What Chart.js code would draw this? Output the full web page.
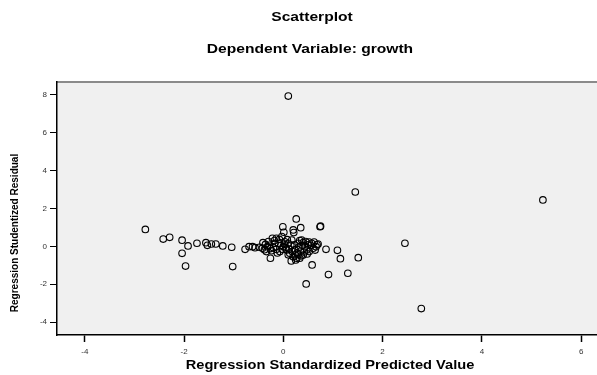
<!DOCTYPE html>
<html>
<head>
<meta charset="utf-8">
<script src="https://cdn.jsdelivr.net/npm/chart.js@4.4.1/dist/chart.umd.min.js"></script>
<style>
  html, body { margin: 0; padding: 0; background: #fff; }
  #chart { display: block; }
</style>
</head>
<body>
<canvas id="chart" width="597" height="375"></canvas>
<script>
// standardized predicted value (x) and studentized residual (y)
const predicted = [
  -2.78, -2.42, -2.29, -2.04, -1.92, -2.04, -1.97, -1.74, -1.56, -1.53, -1.45, -1.36, -1.22, -1.04, -1.02,
  -0.77, -0.69, -0.62, -0.57,
  0.10, 1.45, 2.45, 2.78, 5.23, 0.26, -0.01, 0.35, 0.74, 0.75, 0.21, 0.01, -0.03, 0.86, 1.09, 1.15, 1.51,
  0.58, 0.91, 1.30, 0.46, 0.70, -0.26, 0.16,
  -0.41, -0.42, -0.32, -0.22, -0.14, -0.17, -0.10, -0.34, -0.24, -0.14, -0.07, 0.00, 0.07, 0.03, 0.10,
  0.13, 0.20, 0.23, 0.27, 0.30, 0.33, 0.37, 0.40, 0.44, 0.47, 0.50, 0.57, 0.60, 0.66, 0.40, 0.33, 0.25,
  0.17, 0.20,
  -0.48, -0.36, -0.28, -0.20, -0.12, -0.05, 0.05, 0.08, 0.12, 0.15, 0.18, 0.22, 0.28, 0.31, 0.35, 0.38,
  0.42, 0.45, 0.52, 0.55, 0.62, 0.64, 0.68, 0.52, 0.48, 0.36, 0.30, -0.30, -0.18, -0.08, -0.02, 0.02,
  -0.38, -0.26, 0.10, 0.24
];
const residual = [
  0.89, 0.38, 0.47, 0.32, 0.02, -0.37, -1.04, 0.16, 0.19, 0.05, 0.12, 0.12, 0.02, -0.05, -1.07,
  -0.16, -0.02, -0.02, -0.07,
  7.91, 2.86, 0.16, -3.28, 2.44, 1.44, 1.03, 0.98, 1.03, 1.06, 0.72, 0.74, 0.51, -0.16, -0.21, -0.65, -0.60,
  -0.98, -1.49, -1.42, -1.98, 0.12, -0.63, -0.77,
  0.19, -0.10, -0.02, 0.42, 0.42, 0.16, 0.16, -0.28, -0.23, -0.16, -0.28, -0.02, -0.19, 0.24, 0.16,
  -0.37, -0.55, -0.19, -0.63, 0.16, 0.30, 0.33, 0.19, -0.02, -0.19, 0.07, 0.16, -0.10, -0.02, -0.46, -0.63, -0.72,
  0.33, 0.86,
  -0.05, 0.10, 0.05, -0.08, -0.35, 0.05, -0.05, 0.35, -0.15, 0.05, -0.28, 0.08, -0.35, -0.05, -0.25, 0.05,
  -0.30, 0.25, -0.28, 0.05, 0.22, -0.20, 0.08, 0.22, -0.40, -0.50, -0.45, 0.25, 0.30, 0.36, -0.15, 0.12,
  -0.18, -0.12, -0.45, -0.45
];
const xTicks = [-4, -2, 0, 2, 4, 6];
const yTicks = [-4, -2, 0, 2, 4, 6, 8];

const mainTitle = 'Scatterplot';
const subTitle = 'Dependent Variable: growth';
const xTitle = 'Regression Standardized Predicted Value';
const yTitle = 'Regression Studentized Residual';

const points = predicted.map((x, i) => ({ x: x, y: residual[i] }));
const FONT = '"Liberation Sans", Arial, sans-serif';

// text in the reference is a bit wider than it is tall, so stretch it sideways
function wideText(ctx, text, x, y, size, stretch) {
  ctx.save();
  ctx.font = 'bold ' + size + 'px ' + FONT;
  ctx.translate(x, y);
  ctx.scale(stretch, 1);
  ctx.fillText(text, 0, 0);
  ctx.restore();
}

// grey panel behind the points, grey top edge, and all the titles
const frame = {
  id: 'frame',
  beforeDraw(chart) {
    const { ctx, chartArea: a } = chart;
    ctx.save();
    ctx.fillStyle = '#f0f0f0';
    ctx.fillRect(a.left, a.top, a.right - a.left, a.bottom - a.top);
    ctx.strokeStyle = '#8a8a8a';
    ctx.lineWidth = 2;
    ctx.beginPath();
    ctx.moveTo(a.left, a.top);
    ctx.lineTo(a.right, a.top);
    ctx.stroke();
    ctx.restore();
  },
  afterDraw(chart) {
    const { ctx } = chart;
    ctx.save();
    ctx.fillStyle = '#000';
    ctx.textAlign = 'center';
    ctx.textBaseline = 'middle';
    wideText(ctx, mainTitle, 312, 17, 13, 1.2);
    wideText(ctx, subTitle, 310, 49, 13, 1.2);
    wideText(ctx, xTitle, 330, 366, 12.5, 1.17);
    ctx.font = 'bold 10px ' + FONT;
    ctx.translate(15, 233);
    ctx.rotate(-Math.PI / 2);
    ctx.fillText(yTitle, 0, 0);
    ctx.restore();
  }
};

new Chart(document.getElementById('chart'), {
  type: 'scatter',
  data: {
    datasets: [{
      data: points,
      pointStyle: 'circle',
      pointRadius: 3.3,
      pointBorderWidth: 1.1,
      pointBackgroundColor: 'rgba(0,0,0,0)',
      pointBorderColor: '#000',
      pointHoverRadius: 3.3
    }]
  },
  options: {
    responsive: false,
    animation: false,
    layout: { autoPadding: false, padding: { top: 82, left: 0, right: 0, bottom: 0 } },
    plugins: { legend: { display: false }, tooltip: { enabled: false }, title: { display: false } },
    scales: {
      x: {
        type: 'linear',
        min: -4.56,
        max: 6.32,
        afterBuildTicks: s => { s.ticks = xTicks.map(v => ({ value: v })); },
        afterFit: s => { s.height = 40; },
        grid: { drawOnChartArea: false, drawTicks: true, tickLength: 7, color: '#000', tickWidth: 1.5 },
        border: { display: true, color: '#000', width: 1.5 },
        ticks: { color: '#333', font: { family: FONT, size: 8 }, padding: 5, maxRotation: 0 }
      },
      y: {
        type: 'linear',
        min: -4.67,
        max: 8.65,
        afterBuildTicks: s => { s.ticks = yTicks.map(v => ({ value: v })); },
        afterFit: s => { s.width = 57; },
        grid: { drawOnChartArea: false, drawTicks: true, tickLength: 7, color: '#000', tickWidth: 1 },
        border: { display: true, color: '#000', width: 1.5 },
        ticks: { color: '#333', font: { family: FONT, size: 8 }, padding: 3 }
      }
    }
  },
  plugins: [frame]
});
</script>
</body>
</html>
